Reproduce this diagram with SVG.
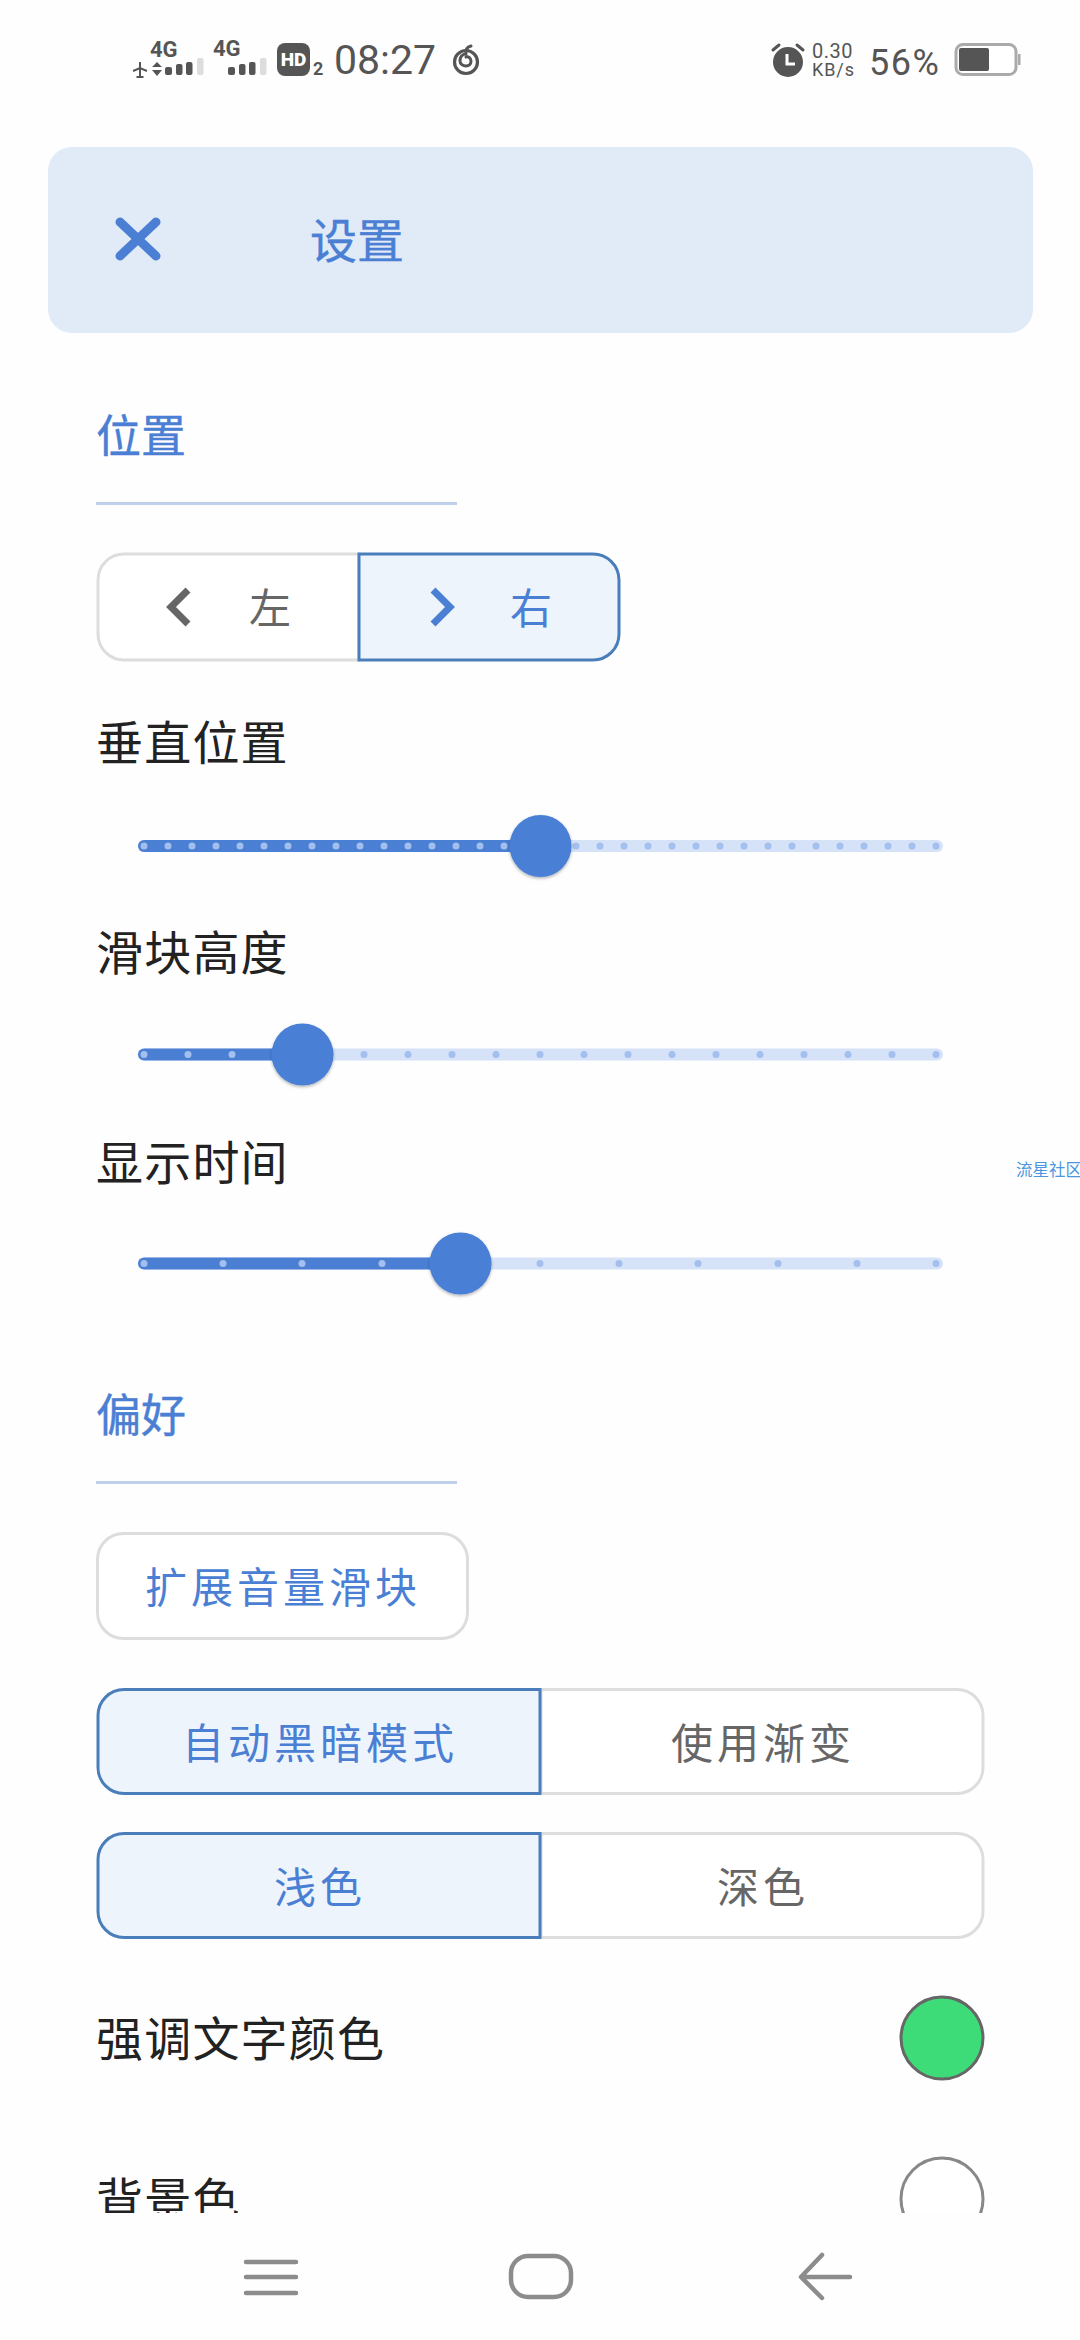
<svg xmlns="http://www.w3.org/2000/svg" width="1080" height="2340" viewBox="0 0 1080 2340">
<style>
text{font-family:"Noto Sans CJK SC","Noto Sans",sans-serif}
.s{font-family:Roboto,"Liberation Sans",sans-serif;fill:#555}
.b{font-weight:700}
.sec{font-size:45px;fill:#4a7fd4;stroke:#4a7fd4;stroke-width:.4px}
.lab{font-size:47px;fill:#222;letter-spacing:1.2px}
.btn{font-size:42px;fill:#666;letter-spacing:4px;text-anchor:middle}
.on{fill:#4a7fd4}
.div{fill:#c0d0e8}
.off{fill:#fff;stroke:#ddd;stroke-width:3}
.sel{fill:#eef4fc;stroke:#4a7ebb;stroke-width:3}
.t0{fill:#d5e2f7}
.t1{fill:#4a7fd4}
.d0{fill:#a3bfee}
.thumb{fill:#4a7fd4}
.nav{fill:none;stroke:#8c8c8c;stroke-width:4.5;stroke-linecap:round;stroke-linejoin:round}
</style>
<defs>
<clipPath id="content"><rect x="0" y="0" width="1080" height="2213"/></clipPath>
<filter id="sh" x="-20%" y="-20%" width="140%" height="140%"><feDropShadow dx="0" dy="1.5" stdDeviation="1.500" flood-color="#000" flood-opacity=".3"/></filter>
</defs>
<rect width="1080" height="2340" fill="#fefefe"/>

<g id="status-bar">
<text class="s b" x="150" y="57" font-size="22">4G</text>
<text class="s b" x="213" y="56" font-size="22">4G</text>
<path d="M140 62v15M133 71l7-3 7 3M136.500 77h7" fill="none" stroke="#555" stroke-width="2"/>
<path d="M152 67l5-5 5 5zM152 70l5 6 5-6z" fill="#555"/>
<g fill="#555"><rect x="165" y="67" width="7" height="8" rx="2"/><rect x="176" y="64" width="6.500" height="11" rx="2"/><rect x="186" y="62" width="6.500" height="13" rx="2"/><rect x="228" y="67" width="7" height="8" rx="2"/><rect x="239" y="64" width="6.500" height="11" rx="2"/><rect x="249" y="62" width="6.500" height="13" rx="2"/></g>
<rect x="197" y="58" width="6.500" height="17" rx="2" fill="#ddd"/><rect x="260" y="58" width="6.500" height="17" rx="2" fill="#ddd"/>
<rect x="277" y="43" width="33" height="33" rx="8" fill="#555"/>
<text x="293.500" y="66" font-size="19" text-anchor="middle" font-weight="900" style="font-family:Roboto,sans-serif" fill="#fff">HD</text>
<text class="s b" x="313" y="75" font-size="18">2</text>
<text class="s" x="334" y="74" font-size="41">08:27</text>
<circle cx="466" cy="62" r="11.500" fill="none" stroke="#555" stroke-width="3.200"/>
<path d="M471 46c-4 1-6 4-5 8M466 54c-4 0-6 3-6 7 0 3 3 5 6 5 3 0 5-2 5-5 0-3-3-5-5-4" fill="none" stroke="#555" stroke-width="3" stroke-linecap="round"/>
<circle cx="788" cy="62" r="15" fill="#555"/>
<path d="M773 50l6-5M803 50l-6-5" stroke="#555" stroke-width="3" stroke-linecap="round"/>
<path d="M787 54v10h8" fill="none" stroke="#fff" stroke-width="3"/>
<text class="s" x="812" y="58" font-size="20" letter-spacing=".5">0.30</text>
<text class="s" x="812" y="76" font-size="18" letter-spacing=".9">KB/s</text>
<text class="s" x="869" y="75" font-size="36" letter-spacing="1.500">56%</text>
<rect x="956" y="44.500" width="60" height="30" rx="7" fill="#fff" stroke="#aaa" stroke-width="3"/>
<rect x="959" y="48" width="30" height="23" rx="2" fill="#555"/>
<rect x="1018" y="54" width="2.500" height="11" fill="#aaa"/>
</g>

<g id="content-area" clip-path="url(#content)">
<g id="header">
<rect x="48" y="147" width="985" height="186" rx="24" fill="#e1ebf7"/>
<path d="M120 222l36 34M156 222l-36 34" stroke="#4a7fd4" stroke-width="9" stroke-linecap="round"/>
<text class="sec" x="310" y="258" style="font-size:47px">设置</text>
</g>

<g id="section-position">
<text class="sec" x="96" y="453">位置</text>
<rect class="div" x="96" y="502" width="361" height="3"/>
</g>

<g id="seg-left">
<path class="off" d="M359 554H124a26 26 0 0 0-26 26v54a26 26 0 0 0 26 26h235z"/>
<path d="M188 590l-17 17 17 17" fill="none" stroke="#666" stroke-width="7"/>
<text x="249" y="624" font-size="42" fill="#666">左</text>
</g>
<g id="seg-right">
<path class="sel" d="M359 554h234a26 26 0 0 1 26 26v54a26 26 0 0 1-26 26H359z"/>
<path d="M433 590l17 17-17 17" fill="none" stroke="#4a7fd4" stroke-width="7"/>
<text x="510" y="624" font-size="42" fill="#4a7fd4">右</text>
</g>

<g id="slider-vertical">
<text class="lab" x="96" y="760">垂直位置</text>
<rect class="t0" x="138" y="840" width="805" height="12" rx="6"/>
<rect class="t1" x="138" y="840" width="402" height="12" rx="6"/>
<g class="d0"><circle cx="144" cy="846" r="3.500"/><circle cx="168" cy="846" r="3.500"/><circle cx="192" cy="846" r="3.500"/><circle cx="216" cy="846" r="3.500"/><circle cx="240" cy="846" r="3.500"/><circle cx="264" cy="846" r="3.500"/><circle cx="288" cy="846" r="3.500"/><circle cx="312" cy="846" r="3.500"/><circle cx="336" cy="846" r="3.500"/><circle cx="360" cy="846" r="3.500"/><circle cx="384" cy="846" r="3.500"/><circle cx="408" cy="846" r="3.500"/><circle cx="432" cy="846" r="3.500"/><circle cx="456" cy="846" r="3.500"/><circle cx="480" cy="846" r="3.500"/><circle cx="504" cy="846" r="3.500"/><circle cx="576" cy="846" r="3.500"/><circle cx="600" cy="846" r="3.500"/><circle cx="624" cy="846" r="3.500"/><circle cx="648" cy="846" r="3.500"/><circle cx="672" cy="846" r="3.500"/><circle cx="696" cy="846" r="3.500"/><circle cx="720" cy="846" r="3.500"/><circle cx="744" cy="846" r="3.500"/><circle cx="768" cy="846" r="3.500"/><circle cx="792" cy="846" r="3.500"/><circle cx="816" cy="846" r="3.500"/><circle cx="840" cy="846" r="3.500"/><circle cx="864" cy="846" r="3.500"/><circle cx="888" cy="846" r="3.500"/><circle cx="912" cy="846" r="3.500"/><circle cx="936" cy="846" r="3.500"/></g>
<circle class="thumb" cx="540.500" cy="846" r="31" filter="url(#sh)"/>
</g>

<g id="slider-height">
<text class="lab" x="96" y="970">滑块高度</text>
<rect class="t0" x="138" y="1048.500" width="805" height="12" rx="6"/>
<rect class="t1" x="138" y="1048.500" width="164" height="12" rx="6"/>
<g class="d0"><circle cx="144" cy="1054.500" r="3.500"/><circle cx="188" cy="1054.500" r="3.500"/><circle cx="232" cy="1054.500" r="3.500"/><circle cx="364" cy="1054.500" r="3.500"/><circle cx="408" cy="1054.500" r="3.500"/><circle cx="452" cy="1054.500" r="3.500"/><circle cx="496" cy="1054.500" r="3.500"/><circle cx="540" cy="1054.500" r="3.500"/><circle cx="584" cy="1054.500" r="3.500"/><circle cx="628" cy="1054.500" r="3.500"/><circle cx="672" cy="1054.500" r="3.500"/><circle cx="716" cy="1054.500" r="3.500"/><circle cx="760" cy="1054.500" r="3.500"/><circle cx="804" cy="1054.500" r="3.500"/><circle cx="848" cy="1054.500" r="3.500"/><circle cx="892" cy="1054.500" r="3.500"/><circle cx="936" cy="1054.500" r="3.500"/></g>
<circle class="thumb" cx="302.500" cy="1054.500" r="31" filter="url(#sh)"/>
</g>

<g id="slider-time">
<text class="lab" x="96" y="1180">显示时间</text>
<rect class="t0" x="138" y="1257.500" width="805" height="12" rx="6"/>
<rect class="t1" x="138" y="1257.500" width="322" height="12" rx="6"/>
<g class="d0"><circle cx="144" cy="1263.500" r="3.500"/><circle cx="223" cy="1263.500" r="3.500"/><circle cx="302" cy="1263.500" r="3.500"/><circle cx="382" cy="1263.500" r="3.500"/><circle cx="540" cy="1263.500" r="3.500"/><circle cx="619" cy="1263.500" r="3.500"/><circle cx="698" cy="1263.500" r="3.500"/><circle cx="778" cy="1263.500" r="3.500"/><circle cx="857" cy="1263.500" r="3.500"/><circle cx="936" cy="1263.500" r="3.500"/></g>
<circle class="thumb" cx="460.500" cy="1263.500" r="31" filter="url(#sh)"/>
</g>

<g id="watermark"><text x="1016" y="1176" font-size="16.500" fill="#4a97e0">流星社区</text></g>

<g id="section-preferences">
<text class="sec" x="96" y="1432">偏好</text>
<rect class="div" x="96" y="1481" width="361" height="3"/>
</g>

<g id="btn-expand">
<rect class="off" x="97.500" y="1533.500" width="370" height="105" rx="26"/>
<text class="btn" x="283" y="1603" style="fill:#4a7fd4">扩展音量滑块</text>
</g>
<g id="btn-gradient">
<path class="off" d="M541 1689.500h416a26 26 0 0 1 26 26v52a26 26 0 0 1-26 26H541z"/>
<text class="btn" x="763" y="1759">使用渐变</text>
</g>
<g id="btn-auto-dark">
<path class="sel" d="M540 1689.500H124a26 26 0 0 0-26 26v52a26 26 0 0 0 26 26h416z"/>
<text class="btn" x="320" y="1759" style="fill:#4a7fd4">自动黑暗模式</text>
</g>
<g id="btn-dark">
<path class="off" d="M541 1833.500h416a26 26 0 0 1 26 26v52a26 26 0 0 1-26 26H541z"/>
<text class="btn" x="763" y="1903">深色</text>
</g>
<g id="btn-light">
<path class="sel" d="M540 1833.500H124a26 26 0 0 0-26 26v52a26 26 0 0 0 26 26h416z"/>
<text class="btn" x="320" y="1903" style="fill:#4a7fd4">浅色</text>
</g>

<g id="accent-color">
<text class="lab" x="96" y="2056">强调文字颜色</text>
<circle cx="942" cy="2038" r="41" fill="#3ddc78" stroke="#666" stroke-width="3"/>
</g>
<g id="background-color">
<text class="lab" x="96" y="2217">背景色</text>
<circle cx="942" cy="2199" r="41" fill="#fff" stroke="#888" stroke-width="3"/>
</g>
</g>

<g id="nav-bar">
<path class="nav" d="M246 2262h50M246 2277h50M246 2293h50"/>
<rect class="nav" x="511" y="2256" width="60" height="41" rx="17" style="stroke-linecap:butt"/>
<path class="nav" d="M850 2277H802M822 2255l-21 22 21 21"/>
</g>
</svg>
